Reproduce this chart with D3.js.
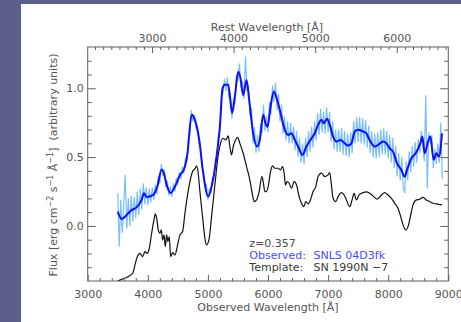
<!DOCTYPE html>
<html>
<head>
<meta charset="utf-8">
<script src="https://cdn.jsdelivr.net/npm/d3@7"></script>
<style>
  body { margin: 0; background: #5c5f8c; }
  svg { display: block; }
  text { font-family: "DejaVu Sans", sans-serif; }
</style>
</head>
<body>
<svg id="chart" width="461" height="322"></svg>
<script>
// Redshift of the supernova: rest = observed / (1 + z)
const redshift = 0.357;

// Axis ticks
const obsMajorTicks = [3000, 4000, 5000, 6000, 7000, 8000, 9000];
const restMajorTicks = [3000, 4000, 5000, 6000];
const fluxMajorTicks = [0.0, 0.5, 1.0];

// Raw observed spectrum, sampled every 25 Å from 3500 Å
const rawStart = 3500;
const rawStep = 25;
const rawFlux = [
  0.24,-0.15,0.19,-0.05,0.16,0.37,-0.02,0.2,0.0,0.22,0.03,0.21,0.06,0.25,0.08,0.27,0.12,0.31,0.16,0.28,
  0.15,0.27,0.17,0.28,0.19,0.3,0.23,0.36,0.31,0.45,0.36,0.41,0.28,0.33,0.22,0.29,0.21,0.31,0.25,0.35,
  0.3,0.39,0.34,0.43,0.38,0.49,0.47,0.63,0.66,0.84,0.76,0.81,0.71,0.72,0.6,0.58,0.43,0.4,0.29,0.3,
  0.19,0.27,0.24,0.35,0.36,0.48,0.5,0.66,0.69,0.94,0.96,1.07,0.98,1.08,0.94,0.96,0.78,0.92,0.9,1.1,
  1.05,1.18,1.0,1.05,0.92,1.23,0.98,1.02,0.8,0.86,0.6,0.72,0.53,0.66,0.54,0.74,0.67,0.88,0.69,0.8,
  0.68,0.9,0.81,1.02,0.9,1.04,0.84,0.96,0.76,0.88,0.67,0.8,0.62,0.76,0.6,0.75,0.6,0.72,0.55,0.69,
  0.5,0.64,0.46,0.6,0.45,0.64,0.5,0.69,0.54,0.72,0.57,0.76,0.62,0.82,0.66,0.85,0.68,0.83,0.67,0.86,
  0.68,0.83,0.61,0.76,0.56,0.7,0.54,0.7,0.54,0.71,0.52,0.69,0.51,0.67,0.5,0.68,0.53,0.76,0.6,0.79,
  0.61,0.79,0.6,0.78,0.59,0.77,0.57,0.73,0.53,0.69,0.5,0.67,0.49,0.68,0.5,0.7,0.52,0.71,0.52,0.69,
  0.49,0.66,0.46,0.64,0.42,0.58,0.36,0.53,0.33,0.5,0.28,0.24,0.47,0.33,0.54,0.39,0.58,0.43,0.61,0.46,
  0.63,0.53,0.69,0.58,0.47,0.95,0.27,0.68,0.6,0.66,0.42,0.56,0.45,0.6,0.46,0.75,0.34
];

// Smoothed observed spectrum
const smoothWave = [
  3500,3565,3648,3731,3814,3897,3936,3981,4091,4158,
  4230,4269,4313,4380,4452,4535,4601,4657,4729,4784,
  4856,4922,5006,5061,5144,5199,5244,5283,5338,5366,
  5404,5449,5504,5543,5587,5643,5687,5753,5820,5864,
  5920,5958,5992,6042,6097,6152,6208,6280,6335,6391,
  6446,6501,6573,6640,6706,6778,6834,6889,6928,6983,
  7028,7083,7139,7205,7277,7332,7388,7443,7499,7582,
  7637,7704,7776,7831,7914,7970,8025,8080,8147,8219,
  8274,8313,8385,8457,8535,8568,8607,8662,8701,8756,
  8801,8845,8895
];
const smoothFlux = [
  0.104,0.05,0.08,0.116,0.135,0.19,0.237,0.21,0.225,0.286,
  0.41,0.38,0.30,0.24,0.286,0.37,0.41,0.516,0.807,0.77,
  0.625,0.383,0.213,0.286,0.504,0.72,1.0,1.025,1.025,0.94,
  0.82,0.94,1.12,1.073,0.95,1.06,0.915,0.673,0.577,0.625,
  0.807,0.746,0.72,0.867,0.976,0.915,0.82,0.698,0.661,0.673,
  0.625,0.577,0.516,0.577,0.625,0.673,0.734,0.77,0.746,0.778,
  0.734,0.649,0.613,0.625,0.60,0.584,0.60,0.686,0.698,0.686,
  0.673,0.613,0.577,0.589,0.613,0.60,0.564,0.54,0.455,0.407,
  0.358,0.407,0.49,0.528,0.60,0.649,0.528,0.613,0.649,0.48,
  0.528,0.504,0.673
];

// Template spectrum (SN 1990N, -7 days), redshifted
const templateWave = [
  3500,3565,3676,3748,3787,3825,3870,3914,3953,3992,
  4025,4064,4102,4125,4147,4175,4202,4224,4247,4269,
  4291,4313,4335,4357,4380,4413,4452,4490,4535,4579,
  4618,4657,4701,4745,4790,4812,4839,4867,4911,4950,
  4978,5017,5061,5116,5172,5210,5255,5299,5338,5366,
  5393,5421,5460,5493,5532,5587,5643,5698,5737,5770,
  5809,5853,5898,5920,5948,5975,6003,6042,6075,6114,
  6169,6208,6241,6269,6291,6319,6352,6391,6435,6474,
  6518,6557,6596,6629,6668,6706,6751,6795,6834,6889,
  6945,7000,7028,7055,7083,7127,7166,7222,7266,7305,
  7360,7399,7432,7471,7515,7582,7637,7693,7759,7814,
  7886,7942,7997,8053,8108,8163,8208,8247,8291,8330,
  8369,8413,8468,8524,8579,8634,8690,8745,8801,8845,
  8895
];
const templateFlux = [
  -0.40,-0.388,-0.368,-0.344,-0.283,-0.223,-0.199,-0.223,-0.187,-0.199,
  -0.162,-0.053,0.044,0.087,0.056,-0.029,-0.053,-0.029,-0.102,-0.065,
  -0.150,-0.065,-0.114,-0.078,-0.223,-0.194,-0.211,-0.150,-0.065,-0.041,
  0.092,0.213,0.322,0.395,0.419,0.436,0.383,0.25,0.068,-0.09,
  -0.138,-0.102,0.068,0.298,0.516,0.60,0.637,0.625,0.654,0.577,
  0.516,0.577,0.625,0.644,0.60,0.528,0.431,0.334,0.237,0.177,
  0.189,0.25,0.359,0.322,0.25,0.25,0.286,0.395,0.436,0.419,
  0.419,0.407,0.431,0.383,0.298,0.322,0.31,0.274,0.322,0.298,
  0.213,0.165,0.14,0.177,0.16,0.189,0.25,0.286,0.359,0.383,
  0.359,0.371,0.388,0.298,0.201,0.177,0.213,0.242,0.225,0.189,
  0.14,0.189,0.237,0.189,0.225,0.242,0.247,0.237,0.213,0.194,
  0.225,0.242,0.225,0.201,0.165,0.128,0.068,0.007,-0.029,-0.005,
  0.068,0.153,0.189,0.194,0.208,0.189,0.177,0.165,0.16,0.157,
  0.153
];

const legendLines = [
  { label: "z=0.357", value: "", color: "#4a4a4a" },
  { label: "Observed:", value: "SNLS 04D3fk", color: "#4a4aff" },
  { label: "Template:", value: "SN 1990N \u22127", color: "#3a3a3a" }
];

// ---- layout ----
const svg = d3.select("#chart");
const plot = { left: 87.7, right: 448.3, top: 47, bottom: 281 };
const axisColor = "#5f5f5f";
const textColor = "#555555";

// white page area
svg.append("rect").attr("x", 21).attr("y", 4).attr("width", 440).attr("height", 318).attr("fill", "#ffffff");

const x = d3.scaleLinear().domain([3000, 9000]).range([plot.left, plot.right]);
const xRest = d3.scaleLinear().domain([3000 / (1 + redshift), 9000 / (1 + redshift)]).range([plot.left, plot.right]);
const y = d3.scaleLinear().domain([-0.4, 1.3]).range([plot.bottom, plot.top]);

// minor tick values
const obsMinor = d3.range(3000, 9001, 200).filter(v => v % 1000 !== 0);
const restMinor = d3.range(2300, 6700, 100).filter(v => v % 1000 !== 0);
const fluxMinor = d3.range(-3, 13).map(v => v / 10).filter(v => Math.abs(v * 2 - Math.round(v * 2)) > 1e-6);

svg.append("defs").append("clipPath").attr("id", "plotclip")
  .append("rect").attr("x", plot.left).attr("y", plot.top)
  .attr("width", plot.right - plot.left).attr("height", plot.bottom - plot.top);

const data = svg.append("g").attr("clip-path", "url(#plotclip)");

// raw observed
const rawPoints = rawFlux.map((f, i) => [rawStart + i * rawStep, f]);
data.append("path")
  .attr("d", d3.line().x(d => x(d[0])).y(d => y(d[1]))(rawPoints))
  .attr("fill", "none").attr("stroke", "#78befc").attr("stroke-width", 1.2).attr("stroke-linejoin", "miter");

// template
const tplPoints = templateWave.map((w, i) => [w, templateFlux[i]]);
data.append("path")
  .attr("d", d3.line().curve(d3.curveMonotoneX).x(d => x(d[0])).y(d => y(d[1]))(tplPoints))
  .attr("fill", "none").attr("stroke", "#111").attr("stroke-width", 1.2);

// smoothed observed
const smoothPoints = smoothWave.map((w, i) => [w, smoothFlux[i]]);
data.append("path")
  .attr("d", d3.line().curve(d3.curveMonotoneX).x(d => x(d[0])).y(d => y(d[1]))(smoothPoints))
  .attr("fill", "none").attr("stroke", "#1010f5").attr("stroke-width", 2);

// ---- axes ----
function styleAxis(g) {
  g.select(".domain").remove();
  g.selectAll("line").attr("stroke", axisColor);
  g.selectAll("text").attr("fill", textColor).attr("font-size", 11)
    .attr("font-family", "DejaVu Sans, sans-serif");
}

// bottom (observed)
svg.append("g").attr("transform", `translate(0,${plot.bottom})`)
  .call(d3.axisBottom(x).tickValues(obsMinor).tickSize(-3).tickFormat("")).call(styleAxis);
svg.append("g").attr("transform", `translate(0,${plot.bottom})`)
  .call(d3.axisBottom(x).tickValues(obsMajorTicks).tickSize(-6).tickPadding(9).tickFormat(d3.format("d")))
  .call(styleAxis);

// top (rest frame)
svg.append("g").attr("transform", `translate(0,${plot.top})`)
  .call(d3.axisTop(xRest).tickValues(restMinor).tickSize(-3).tickFormat("")).call(styleAxis);
svg.append("g").attr("transform", `translate(0,${plot.top})`)
  .call(d3.axisTop(xRest).tickValues(restMajorTicks).tickSize(-6).tickPadding(5).tickFormat(d3.format("d")))
  .call(styleAxis);

// left
svg.append("g").attr("transform", `translate(${plot.left},0)`)
  .call(d3.axisLeft(y).tickValues(fluxMinor).tickSize(-4).tickFormat("")).call(styleAxis);
svg.append("g").attr("transform", `translate(${plot.left},0)`)
  .call(d3.axisLeft(y).tickValues(fluxMajorTicks).tickSize(-8).tickPadding(4).tickFormat(d3.format(".1f")))
  .call(styleAxis);

// right
svg.append("g").attr("transform", `translate(${plot.right},0)`)
  .call(d3.axisRight(y).tickValues(fluxMinor).tickSize(-4).tickFormat("")).call(styleAxis);
svg.append("g").attr("transform", `translate(${plot.right},0)`)
  .call(d3.axisRight(y).tickValues(fluxMajorTicks).tickSize(-8).tickFormat("")).call(styleAxis);

// frame
svg.append("rect").attr("x", plot.left).attr("y", plot.top)
  .attr("width", plot.right - plot.left).attr("height", plot.bottom - plot.top)
  .attr("fill", "none").attr("stroke", axisColor).attr("stroke-width", 1);

// axis titles
svg.append("text").attr("x", 267).attr("y", 31).attr("text-anchor", "middle")
  .attr("font-size", 11).attr("fill", textColor).text("Rest Wavelength [Å]");
svg.append("text").attr("x", 268).attr("y", 311).attr("text-anchor", "middle")
  .attr("font-size", 11).attr("fill", textColor).text("Observed Wavelength [Å]");

const yTitle = svg.append("text")
  .attr("transform", "translate(57,165) rotate(-90)")
  .attr("text-anchor", "middle").attr("font-size", 11).attr("fill", textColor);
yTitle.append("tspan").text("Flux [erg cm");
yTitle.append("tspan").attr("dy", -4).attr("font-size", 8).text("\u22122");
yTitle.append("tspan").attr("dy", 4).text(" s");
yTitle.append("tspan").attr("dy", -4).attr("font-size", 8).text("\u22121");
yTitle.append("tspan").attr("dy", 4).text(" Å");
yTitle.append("tspan").attr("dy", -4).attr("font-size", 8).text("\u22121");
yTitle.append("tspan").attr("dy", 4).text("]\u00a0\u00a0(arbitrary units)");

// legend
const legend = svg.append("g");
legendLines.forEach((l, i) => {
  const baseline = 246.5 + i * 12;
  legend.append("text").attr("x", 249.3).attr("y", baseline)
    .attr("font-size", 11).attr("fill", l.color).text(l.label);
  if (l.value) {
    legend.append("text").attr("x", 313.5).attr("y", baseline)
      .attr("font-size", 11).attr("fill", l.color).text(l.value);
  }
});
</script>
</body>
</html>
